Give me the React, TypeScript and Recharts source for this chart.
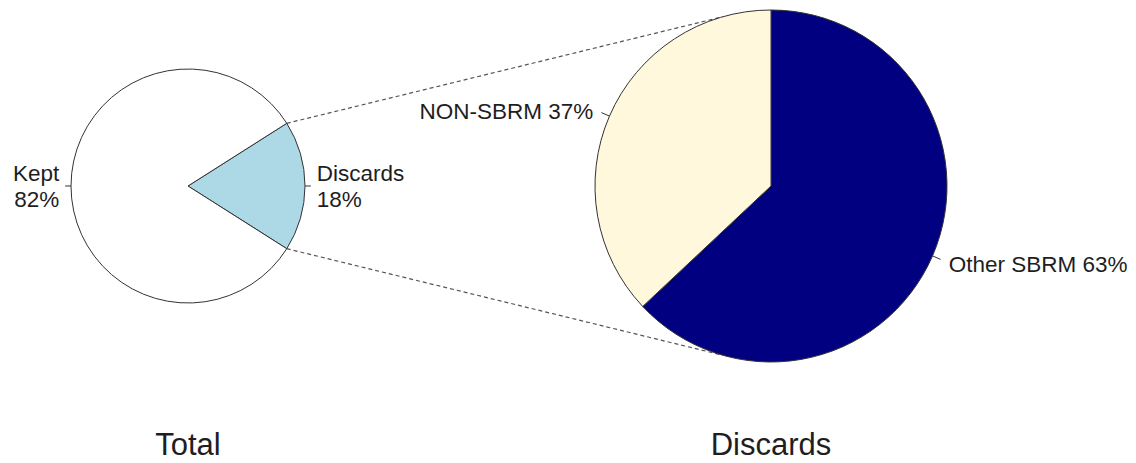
import { PieChart, Pie, Cell, Customized } from "recharts";

// data
const totalLabels = ["Discards", "Kept"];
const totalValues = [18, 82];
const discardLabels = ["Other SBRM", "NON-SBRM"];
const discardValues = [63, 37];
const titles = ["Total", "Discards"];

const totalColors = ["#add8e6", "#ffffff"];
const discardColors = ["#000080", "#fff8dc"];

const W = 1136;
const H = 463;
const LEFT = { cx: 188, cy: 186, r: 117 };
const RIGHT = { cx: 771, cy: 186, r: 176 };
const CONNECT_ANGLE = 106; // where the dashed lines meet the right pie
const FONT = '"Liberation Sans", Arial, Helvetica, sans-serif';
const RAD = Math.PI / 180;

const totalData = totalLabels.map((name, i) => ({ name, value: totalValues[i] }));
const discardData = discardLabels.map((name, i) => ({ name, value: discardValues[i] }));

const totalSum = totalValues.reduce((a, b) => a + b, 0);
// center the "Discards" slice on the right side of the left pie
const halfSlice = (totalValues[0] / totalSum) * 180;

function makeLabel(multiLine: boolean) {
  return (props: any) => {
    const { cx, cy, midAngle, outerRadius, name, percent } = props;
    const cos = Math.cos(-midAngle * RAD);
    const sin = Math.sin(-midAngle * RAD);
    const r = outerRadius;
    const tx = cx + r * 1.1 * cos;
    const ty = cy + r * 1.1 * sin;
    const anchor = cos >= 0 ? "start" : "end";
    const pct = `${Math.round(percent * 100)}%`;
    return (
      <g>
        <line
          x1={cx + r * cos}
          y1={cy + r * sin}
          x2={cx + r * 1.05 * cos}
          y2={cy + r * 1.05 * sin}
          stroke="#333"
          strokeWidth={1}
        />
        {multiLine ? (
          <text textAnchor={anchor} fontSize={22.5} fontFamily={FONT} fill="#1e1e1e" dominantBaseline="central">
            <tspan x={tx} y={ty - 13}>{name}</tspan>
            <tspan x={tx} y={ty + 13}>{pct}</tspan>
          </text>
        ) : (
          <text x={tx} y={ty + 2} textAnchor={anchor} fontSize={22.5} fontFamily={FONT} fill="#1e1e1e" dominantBaseline="central">
            {`${name} ${pct}`}
          </text>
        )}
      </g>
    );
  };
}

function point(c: { cx: number; cy: number; r: number }, angle: number) {
  return { x: c.cx + c.r * Math.cos(angle * RAD), y: c.cy - c.r * Math.sin(angle * RAD) };
}

function Overlay() {
  const a1 = point(LEFT, halfSlice);
  const b1 = point(RIGHT, CONNECT_ANGLE);
  const a2 = point(LEFT, -halfSlice);
  const b2 = point(RIGHT, -CONNECT_ANGLE);
  return (
    <g>
      <line x1={a1.x} y1={a1.y} x2={b1.x} y2={b1.y} stroke="#555" strokeDasharray="4 3" strokeWidth={1.2} />
      <line x1={a2.x} y1={a2.y} x2={b2.x} y2={b2.y} stroke="#555" strokeDasharray="4 3" strokeWidth={1.2} />
      <text x={LEFT.cx} y={455} textAnchor="middle" fontSize={31} fontFamily={FONT} fill="#1e1e1e">
        {titles[0]}
      </text>
      <text x={RIGHT.cx} y={455} textAnchor="middle" fontSize={31} fontFamily={FONT} fill="#1e1e1e">
        {titles[1]}
      </text>
    </g>
  );
}

export default function App() {
  return (
    <div style={{ position: "absolute", left: 0, top: 0, background: "#fff" }}>
      <PieChart width={W} height={H} margin={{ top: 0, right: 0, bottom: 0, left: 0 }}>
        <Pie
          data={totalData}
          dataKey="value"
          nameKey="name"
          cx={LEFT.cx}
          cy={LEFT.cy}
          outerRadius={LEFT.r}
          startAngle={-halfSlice}
          endAngle={360 - halfSlice}
          stroke="#333"
          strokeWidth={1}
          label={makeLabel(true)}
          labelLine={false}
          isAnimationActive={false}
        >
          {totalData.map((d, i) => (
            <Cell key={d.name} fill={totalColors[i]} />
          ))}
        </Pie>
        <Pie
          data={discardData}
          dataKey="value"
          nameKey="name"
          cx={RIGHT.cx}
          cy={RIGHT.cy}
          outerRadius={RIGHT.r}
          startAngle={90}
          endAngle={-270}
          stroke="#333"
          strokeWidth={1}
          label={makeLabel(false)}
          labelLine={false}
          isAnimationActive={false}
        >
          {discardData.map((d, i) => (
            <Cell key={d.name} fill={discardColors[i]} />
          ))}
        </Pie>
        <Customized component={Overlay} />
      </PieChart>
    </div>
  );
}
